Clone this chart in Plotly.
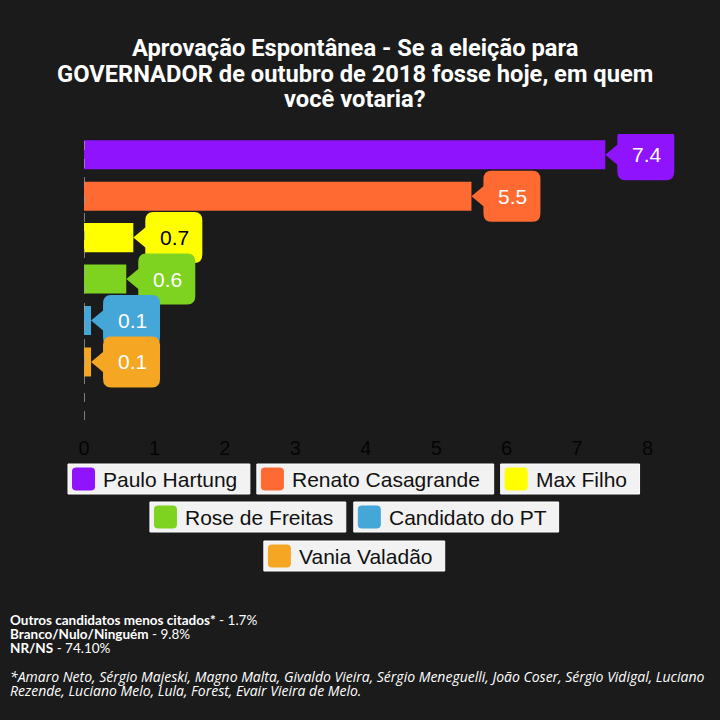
import plotly.graph_objects as go

# ---------------- data ----------------
categories = ["Paulo Hartung", "Renato Casagrande", "Max Filho",
              "Rose de Freitas", "Candidato do PT", "Vania Valadão"]
values = [7.4, 5.5, 0.7, 0.6, 0.1, 0.1]
bar_colors = ["#8f13fc", "#ff6a33", "#ffff00", "#7ed321", "#45a6d8", "#f5a623"]
label_colors = ["#ffffff", "#ffffff", "#000000", "#ffffff", "#ffffff", "#ffffff"]
x_ticks = [0, 1, 2, 3, 4, 5, 6, 7, 8]

title_lines = ["Aprovação Espontânea - Se a eleição para",
               "GOVERNADOR de outubro de 2018 fosse hoje, em quem",
               "você votaria?"]
footer_bold = ["Outros candidatos menos citados*", "Branco/Nulo/Ninguém", "NR/NS"]
footer_vals = ["1.7%", "9.8%", "74.10%"]
footnote_lines = ["*Amaro Neto, Sérgio Majeski, Magno Malta, Givaldo Vieira, Sérgio Meneguelli, João Coser, Sérgio Vidigal, Luciano",
                  "Rezende, Luciano Melo, Lula, Forest, Evair Vieira de Melo."]

# ---------------- layout constants ----------------
W = H = 720
PX_PER_UNIT = 70.5
X_MAX = 9
ML, MT, MB = 84, 134, 300
MR = W - ML - PX_PER_UNIT * X_MAX
PW, PH = W - ML - MR, H - MT - MB
BG = "#1b1b1b"

def px(x):
    return (x - ML) / PW

def py(y):
    return (H - MB - y) / PH

# legend box extents (left, right, row centre y) in pixels
legend_boxes = [(68, 250, 479), (257, 494, 479), (501, 640, 479),
                (150, 346, 517), (354, 559, 517), (264, 445, 556)]

CALLOUT = ("M 0,0 L 12,10 L 12,17 Q 12,25.5 20,25.5 L 61,25.5 Q 69,25.5 69,17 "
           "L 69,-17 Q 69,-25.5 61,-25.5 L 20,-25.5 Q 12,-25.5 12,-17 L 12,-10 Z")
SWATCH = ("M 3,11 L 19,11 Q 22,11 22,8 L 22,-8 Q 22,-11 19,-11 L 3,-11 "
          "Q 0,-11 0,-8 L 0,8 Q 0,11 3,11 Z")

fig = go.Figure()
ypos = list(range(len(categories)))
for i, (c, v, col) in enumerate(zip(categories, values, bar_colors)):
    fig.add_trace(go.Bar(x=[v], y=[ypos[i]], orientation="h", name=c,
                         marker=dict(color=col, line_width=0), width=0.7,
                         showlegend=False, hovertemplate=c + ": %{x}<extra></extra>"))

shapes = []
annotations = []
# zero dashed line
shapes.append(dict(type="line", xref="x", yref="paper", x0=0, x1=0, y0=0, y1=1,
                   line=dict(color="#a0a0a0", width=1.5, dash="dash"), layer="above"))
# callouts
for i, (v, col, lc) in enumerate(zip(values, bar_colors, label_colors)):
    shapes.append(dict(type="path", xref="x", yref="y", xsizemode="pixel", ysizemode="pixel",
                       xanchor=v, yanchor=ypos[i], path=CALLOUT, fillcolor=col,
                       line=dict(width=0)))
    annotations.append(dict(x=v, y=ypos[i], xref="x", yref="y", text=f"{v}", showarrow=False,
                            xshift=41.5, font=dict(family="Liberation Sans, Arial", size=21, color=lc)))

# manual legend
for i, (c, col) in enumerate(zip(categories, bar_colors)):
    x0, x1, yc = legend_boxes[i]
    shapes.append(dict(type="rect", xref="paper", yref="paper", x0=px(x0), x1=px(x1),
                       y0=py(yc + 15), y1=py(yc - 15), fillcolor="#f2f2f2",
                       line=dict(color="#ffffff", width=1)))
    shapes.append(dict(type="path", xref="paper", yref="paper", xsizemode="pixel", ysizemode="pixel",
                       xanchor=px(x0 + 4.5), yanchor=py(yc), path=SWATCH, fillcolor=col,
                       line=dict(color=col, width=1)))
    annotations.append(dict(x=px(x0 + 33), y=py(yc), xref="paper", yref="paper", text=c,
                            showarrow=False, xanchor="left", yanchor="middle",
                            font=dict(family="Liberation Sans, Arial", size=21, color="#111111")))

# title (one annotation per line for exact line spacing)
for t, yy in zip(title_lines, [48, 74, 99]):
    annotations.append(dict(x=px(355), y=py(yy), xref="paper", yref="paper",
                            text=f"<b>{t}</b>", showarrow=False, xanchor="center",
                            yanchor="middle", font=dict(family="Roboto", size=23.7, color="#ffffff")))

# footer
for b, v, yy in zip(footer_bold, footer_vals, [619.5, 633.5, 647.5]):
    annotations.append(dict(x=px(8), y=py(yy), xref="paper", yref="paper",
                            text=f"<b>{b}</b> - {v}", showarrow=False, xanchor="left",
                            yanchor="middle", font=dict(family="Lato", size=13.5, color="#ffffff")))
for t, yy in zip(footnote_lines, [676, 690]):
    annotations.append(dict(x=px(8), y=py(yy), xref="paper", yref="paper",
                            text=f"<i>{t}</i>", showarrow=False, xanchor="left",
                            yanchor="middle", font=dict(family="Open Sans", size=14, color="#ffffff")))

fig.update_layout(
    width=W, height=H,
    margin=dict(l=ML, r=MR, t=MT, b=MB),
    paper_bgcolor=BG, plot_bgcolor=BG,
    xaxis=dict(range=[0, X_MAX], tickvals=x_ticks, showgrid=False, zeroline=False,
               showline=False, ticks="outside", ticklen=10, tickcolor="rgba(0,0,0,0)",
               tickfont=dict(family="Liberation Sans, Arial", size=20, color="rgba(0,0,0,0.85)")),
    yaxis=dict(range=[6.4, -0.5], visible=False),
    shapes=shapes, annotations=annotations,
    bargap=0.3,
)

fig.write_html("out.html", config={"displayModeBar": False},
               post_script="document.body.style.margin='0';")
